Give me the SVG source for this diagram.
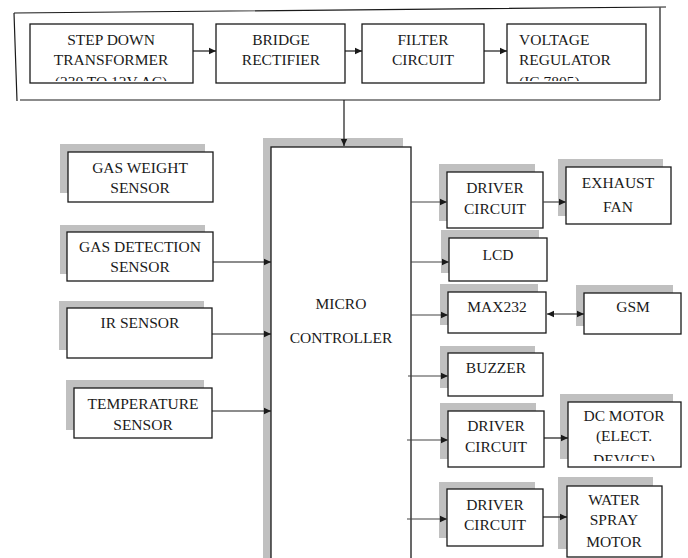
<svg xmlns="http://www.w3.org/2000/svg" width="688" height="558" viewBox="0 0 688 558">
<style>
.box{fill:#fff;stroke:#1a1a1a;stroke-width:1.3}
.sh{fill:#c0c0c0}
.t{font-family:"Liberation Serif","Times New Roman","DejaVu Serif",serif;font-size:15.5px;fill:#1a1a1a;text-anchor:middle}
.tl{text-anchor:start}
.c{stroke:#1a1a1a;stroke-width:1.2;fill:none}
.cg{stroke:#444;stroke-width:1.2;fill:none}
</style>
<defs>
<marker id="ah" markerWidth="8" markerHeight="8" refX="7" refY="4" orient="auto" markerUnits="userSpaceOnUse">
<path d="M0,0.8 L7,4 L0,7.2 z" fill="#1a1a1a"/>
</marker>
<marker id="ahs" markerWidth="8" markerHeight="8" refX="0" refY="4" orient="auto" markerUnits="userSpaceOnUse">
<path d="M7,0.8 L0,4 L7,7.2 z" fill="#1a1a1a"/>
</marker>
<clipPath id="c1"><rect x="30" y="24" width="163" height="57"/></clipPath>
<clipPath id="c2"><rect x="507" y="24" width="139" height="57"/></clipPath>
<clipPath id="c3"><rect x="568" y="402" width="113" height="59"/></clipPath>
</defs>

<g id="power-frame">
<path class="c" d="M14,13 L666,7 M14,13 L17,101 M20,100 L660,100 M660,7 L660,100"/>
</g>

<g id="step-down">
<rect class="box" x="30" y="24" width="163" height="59"/>
<g clip-path="url(#c1)">
<text class="t" x="111" y="45">STEP DOWN</text>
<text class="t" x="111" y="65">TRANSFORMER</text>
<text class="t" x="111" y="87">(230 TO 12V AC)</text>
</g>
</g>
<g id="bridge">
<rect class="box" x="216" y="24" width="129" height="59"/>
<text class="t" x="281" y="45">BRIDGE</text>
<text class="t" x="281" y="65">RECTIFIER</text>
</g>
<g id="filter">
<rect class="box" x="362" y="24" width="122" height="59"/>
<text class="t" x="423" y="45">FILTER</text>
<text class="t" x="423" y="65">CIRCUIT</text>
</g>
<g id="regulator">
<rect class="box" x="507" y="24" width="139" height="59"/>
<g clip-path="url(#c2)">
<text class="t tl" x="519" y="45">VOLTAGE</text>
<text class="t tl" x="519" y="65">REGULATOR</text>
<text class="t tl" x="519" y="87">(IC 7805)</text>
</g>
</g>

<g id="micro">
<rect class="sh" x="263" y="138" width="140" height="425"/>
<rect class="box" x="271" y="147" width="140" height="415"/>
<text class="t" x="341" y="309">MICRO</text>
<text class="t" x="341" y="343">CONTROLLER</text>
</g>

<g id="gas-weight">
<rect class="sh" x="60" y="144" width="145" height="49"/>
<rect class="box" x="68" y="152" width="145" height="50"/>
<text class="t" x="140" y="173">GAS WEIGHT</text>
<text class="t" x="140" y="193">SENSOR</text>
</g>
<g id="gas-detection">
<rect class="sh" x="60" y="225" width="145" height="49"/>
<rect class="box" x="67" y="232" width="146" height="49"/>
<text class="t" x="140" y="252">GAS DETECTION</text>
<text class="t" x="140" y="272">SENSOR</text>
</g>
<g id="ir-sensor">
<rect class="sh" x="59" y="301" width="145" height="49"/>
<rect class="box" x="67" y="308" width="145" height="50"/>
<text class="t" x="140" y="328">IR SENSOR</text>
</g>
<g id="temperature">
<rect class="sh" x="66" y="380" width="138" height="50"/>
<rect class="box" x="74" y="388" width="138" height="50"/>
<text class="t" x="143" y="409">TEMPERATURE</text>
<text class="t" x="143" y="430">SENSOR</text>
</g>

<g id="driver1">
<rect class="sh" x="439" y="164" width="96" height="57"/>
<rect class="box" x="447" y="172" width="96" height="56"/>
<text class="t" x="495" y="193">DRIVER</text>
<text class="t" x="495" y="214">CIRCUIT</text>
</g>
<g id="exhaust">
<rect class="sh" x="558" y="159" width="105" height="57"/>
<rect class="box" x="566" y="167" width="105" height="57"/>
<text class="t" x="618" y="188">EXHAUST</text>
<text class="t" x="618" y="212">FAN</text>
</g>
<g id="lcd">
<rect class="sh" x="441" y="230" width="98" height="43"/>
<rect class="box" x="449" y="238" width="98" height="43"/>
<text class="t" x="498" y="260">LCD</text>
</g>
<g id="max232">
<rect class="sh" x="440" y="284" width="98" height="41"/>
<rect class="box" x="448" y="292" width="98" height="41"/>
<text class="t" x="497" y="312">MAX232</text>
</g>
<g id="gsm">
<rect class="sh" x="576" y="285" width="97" height="41"/>
<rect class="box" x="584" y="293" width="97" height="41"/>
<text class="t" x="633" y="312">GSM</text>
</g>
<g id="buzzer">
<rect class="sh" x="440" y="346" width="95" height="42"/>
<rect class="box" x="448" y="353" width="95" height="43"/>
<text class="t" x="496" y="373">BUZZER</text>
</g>
<g id="driver2">
<rect class="sh" x="440" y="403" width="96" height="56"/>
<rect class="box" x="448" y="411" width="96" height="56"/>
<text class="t" x="496" y="431">DRIVER</text>
<text class="t" x="496" y="452">CIRCUIT</text>
</g>
<g id="dc-motor">
<rect class="sh" x="560" y="394" width="113" height="65"/>
<rect class="box" x="568" y="402" width="113" height="65"/>
<g clip-path="url(#c3)">
<text class="t" x="624" y="421">DC MOTOR</text>
<text class="t" x="624" y="441">(ELECT.</text>
<text class="t" x="624" y="465">DEVICE)</text>
</g>
</g>
<g id="driver3">
<rect class="sh" x="439" y="482" width="96" height="56"/>
<rect class="box" x="447" y="489" width="96" height="57"/>
<text class="t" x="495" y="510">DRIVER</text>
<text class="t" x="495" y="530">CIRCUIT</text>
</g>
<g id="water-spray">
<rect class="sh" x="558" y="477" width="95" height="72"/>
<rect class="box" x="567" y="486" width="95" height="71"/>
<text class="t" x="614" y="505">WATER</text>
<text class="t" x="614" y="525">SPRAY</text>
<text class="t" x="614" y="547">MOTOR</text>
</g>

<g id="connectors">
<line class="c" x1="193" y1="51" x2="216" y2="51" marker-end="url(#ah)"/>
<line class="c" x1="345" y1="51" x2="362" y2="51" marker-end="url(#ah)"/>
<line class="c" x1="484" y1="51" x2="507" y2="51" marker-end="url(#ah)"/>
<line class="c" x1="344" y1="100" x2="344" y2="146" marker-end="url(#ah)"/>
<line class="c" x1="213" y1="262" x2="271" y2="262" marker-end="url(#ah)"/>
<line class="c" x1="212" y1="334" x2="271" y2="334" marker-end="url(#ah)"/>
<line class="c" x1="212" y1="411" x2="271" y2="411" marker-end="url(#ah)"/>
<line class="cg" x1="411" y1="202" x2="447" y2="202" marker-end="url(#ah)"/>
<line class="cg" x1="543" y1="202" x2="566" y2="202" marker-end="url(#ah)"/>
<line class="cg" x1="411" y1="262" x2="449" y2="262" marker-end="url(#ah)"/>
<line class="cg" x1="411" y1="315" x2="448" y2="315" marker-end="url(#ah)"/>
<line class="c" x1="547" y1="314" x2="584" y2="314" marker-start="url(#ahs)" marker-end="url(#ah)"/>
<line class="cg" x1="408" y1="376" x2="448" y2="376" marker-end="url(#ah)"/>
<line class="cg" x1="407" y1="440" x2="448" y2="440" marker-end="url(#ah)"/>
<line class="c" x1="544" y1="438" x2="568" y2="438" marker-end="url(#ah)"/>
<line class="cg" x1="407" y1="519" x2="447" y2="519" marker-end="url(#ah)"/>
<line class="c" x1="543" y1="517" x2="567" y2="517" marker-end="url(#ah)"/>
</g>
</svg>
